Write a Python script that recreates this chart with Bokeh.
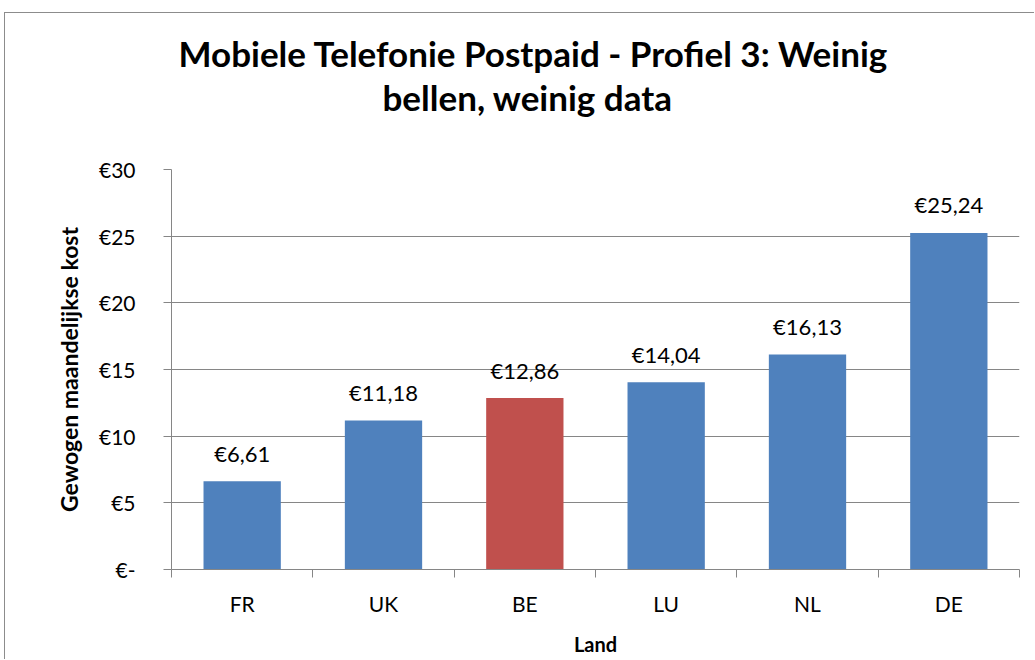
from bokeh.plotting import figure
from bokeh.models import (Range1d, FixedTicker, Title, ColumnDataSource)
from bokeh.embed import file_html
from bokeh.resources import INLINE
from bokeh.core.properties import value

# ---- data ----
title_lines = ["Mobiele Telefonie Postpaid - Profiel 3: Weinig", "bellen, weinig data"]
countries = ["FR", "UK", "BE", "LU", "NL", "DE"]
costs = [6.61, 11.18, 12.86, 14.04, 16.13, 25.24]
value_labels = ["€6,61", "€11,18", "€12,86", "€14,04", "€16,13", "€25,24"]
y_ticks = [0, 5, 10, 15, 20, 25, 30]
y_tick_labels = ["€-", "€5", "€10", "€15", "€20", "€25", "€30"]
highlight = "BE"
x_title = "Land"
y_title = "Gewogen maandelijkse kost"

# ---- style ----
BLUE = "#4F81BD"
RED = "#C0504D"
GRID = "#868686"
FONT = "Lato"
W, H = 1030, 647
FRAME_L, FRAME_T = 166, 156
FRAME_W = 848
FRAME_H = 400
YMAX = 30

n = len(countries)
centers = [i + 0.5 for i in range(n)]
edges = list(range(n + 1))
colors = [RED if c == highlight else BLUE for c in countries]
src = ColumnDataSource(dict(x=centers, cost=costs, color=colors, label=value_labels))

p = figure(width=W, height=H,
           x_range=Range1d(0, n),
           y_range=Range1d(0, YMAX),
           output_backend="svg", toolbar_location=None,
           min_border_left=FRAME_L, min_border_right=W - FRAME_L - FRAME_W,
           min_border_top=FRAME_T, min_border_bottom=H - FRAME_T - FRAME_H)
p.styles = {"margin-left": "4px", "margin-top": "12px",
            "border-left": "1px solid #8c8c8c", "border-top": "1px solid #8c8c8c"}
p.outline_line_color = None
p.background_fill_color = "white"
p.border_fill_color = "white"

# y axis
ya = p.yaxis[0]
ya.ticker = FixedTicker(ticks=y_ticks)
ya.major_label_overrides = dict(zip(y_ticks, y_tick_labels))
ya.axis_line_color = GRID
ya.major_tick_line_color = GRID
ya.major_tick_in = 0
ya.major_tick_out = 8
ya.minor_tick_line_color = None
ya.major_label_text_font = FONT
ya.major_label_text_font_size = "21px"
ya.major_label_text_color = "black"
ya.major_label_standoff = 28
ya.axis_label = y_title
ya.axis_label_text_font = FONT
ya.axis_label_text_font_style = "bold"
ya.axis_label_text_font_size = "23px"
ya.axis_label_text_color = "black"
ya.axis_label_standoff = 13

p.ygrid.ticker = FixedTicker(ticks=y_ticks)
p.ygrid.grid_line_color = GRID
p.ygrid.grid_line_width = 1
p.xgrid.grid_line_color = None

# x axis: labels at category centres, ticks at category boundaries
xa = p.xaxis[0]
xa.ticker = FixedTicker(ticks=centers, minor_ticks=edges)
xa.major_label_overrides = dict(zip(centers, countries))
xa.axis_line_color = GRID
xa.major_tick_line_color = None
xa.major_tick_in = 0
xa.major_tick_out = 8
xa.minor_tick_line_color = GRID
xa.minor_tick_in = 0
xa.minor_tick_out = 8
xa.major_label_text_font = FONT
xa.major_label_text_font_size = "21px"
xa.major_label_text_color = "black"
xa.major_label_standoff = 13
xa.axis_label = x_title
xa.axis_label_text_font = FONT
xa.axis_label_text_font_style = "bold"
xa.axis_label_text_font_size = "20px"
xa.axis_label_text_color = "black"
xa.axis_label_standoff = 13

# bars
p.vbar(x="x", top="cost", width=0.547, fill_color="color", line_color=None, source=src)

# value labels
p.text(x="x", y="cost", text="label", source=src,
       text_align="center", text_baseline="alphabetic", y_offset=-28,
       text_font=value(FONT), text_font_size="22px", text_color="black")

# title: blank spacer panel next to the plot, then the two title lines
p.add_layout(Title(text=" ", standoff=49, text_font_size="1px", text_color="white"), "above")
for line, off in zip(reversed(title_lines), [211, 7]):
    p.add_layout(Title(text=line, align="left", offset=off, standoff=0,
                       text_font=FONT, text_font_style="bold", text_font_size="35px",
                       text_color="black"), "above")

open("out.html", "w").write(file_html(p, INLINE))
